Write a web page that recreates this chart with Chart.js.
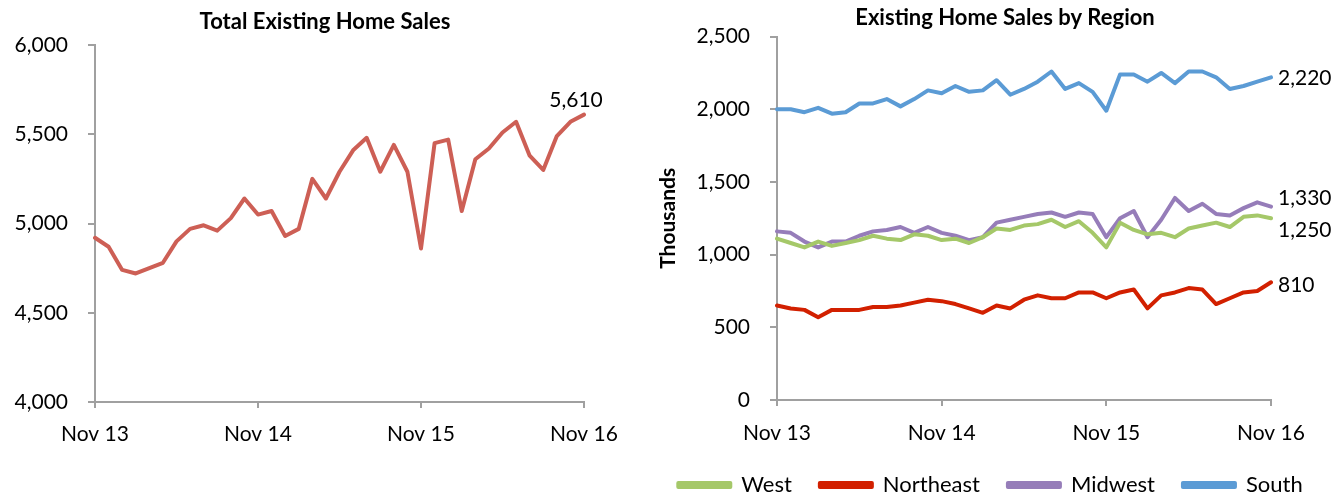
<!DOCTYPE html>
<html>
<head>
<meta charset="utf-8">
<script src="https://cdn.jsdelivr.net/npm/chart.js@4/dist/chart.umd.min.js"></script>
<style>
  html, body { margin: 0; padding: 0; background: #fff; overflow: hidden; }
  #wrap { position: relative; width: 1341px; height: 497px; }
  canvas { position: absolute; top: 0; }
</style>
</head>
<body>
<div id="wrap">
  <canvas id="total" width="640" height="497" style="left:0"></canvas>
  <canvas id="region" width="701" height="497" style="left:640px"></canvas>
</div>
<script>
const months = [
  'Nov 13', 'Dec 13', 'Jan 14', 'Feb 14', 'Mar 14', 'Apr 14', 'May 14', 'Jun 14', 'Jul 14', 'Aug 14', 'Sep 14', 'Oct 14',
  'Nov 14', 'Dec 14', 'Jan 15', 'Feb 15', 'Mar 15', 'Apr 15', 'May 15', 'Jun 15', 'Jul 15', 'Aug 15', 'Sep 15', 'Oct 15',
  'Nov 15', 'Dec 15', 'Jan 16', 'Feb 16', 'Mar 16', 'Apr 16', 'May 16', 'Jun 16', 'Jul 16', 'Aug 16', 'Sep 16', 'Oct 16',
  'Nov 16'
];
const xTickLabels = ['Nov 13', 'Nov 14', 'Nov 15', 'Nov 16'];

const totalSales = [4920, 4870, 4740, 4720, 4750, 4780, 4900, 4970, 4990, 4960, 5030, 5140,
  5050, 5070, 4930, 4970, 5250, 5140, 5290, 5410, 5480, 5290, 5440, 5290,
  4860, 5450, 5470, 5070, 5360, 5420, 5510, 5570, 5380, 5300, 5490, 5570, 5610];

const west = [1110, 1080, 1050, 1090, 1060, 1080, 1100, 1130, 1110, 1100, 1140, 1130,
  1100, 1110, 1080, 1120, 1180, 1170, 1200, 1210, 1240, 1190, 1230, 1150,
  1050, 1220, 1170, 1140, 1150, 1120, 1180, 1200, 1220, 1190, 1260, 1270, 1250];
const northeast = [650, 630, 620, 570, 620, 620, 620, 640, 640, 650, 670, 690,
  680, 660, 630, 600, 650, 630, 690, 720, 700, 700, 740, 740,
  700, 740, 760, 630, 720, 740, 770, 760, 660, 700, 740, 750, 810];
const midwest = [1160, 1150, 1090, 1050, 1090, 1090, 1130, 1160, 1170, 1190, 1150, 1190,
  1150, 1130, 1100, 1120, 1220, 1240, 1260, 1280, 1290, 1260, 1290, 1280,
  1120, 1250, 1300, 1120, 1240, 1390, 1300, 1350, 1280, 1270, 1320, 1360, 1330];
const south = [2000, 2000, 1980, 2010, 1970, 1980, 2040, 2040, 2070, 2020, 2070, 2130,
  2110, 2160, 2120, 2130, 2200, 2100, 2140, 2190, 2260, 2140, 2180, 2120,
  1990, 2240, 2240, 2190, 2250, 2180, 2260, 2260, 2220, 2140, 2160, 2190, 2220];

const FONT = 'Lato, "Open Sans", sans-serif';
Chart.defaults.font.family = FONT;
Chart.defaults.color = '#000';
const AXIS = '#a0a0a0';

// shift the title sideways, the Excel titles are not centred on the canvas
const titleShift = {
  id: 'titleShift',
  afterLayout(chart, args, opts) {
    const t = chart.titleBlock;
    if (t && opts.dx) { t.left += opts.dx; t.right += opts.dx; }
  }
};

// value label next to the last point of each line
const endLabels = {
  id: 'endLabels',
  afterDatasetsDraw(chart, args, opts) {
    const ctx = chart.ctx;
    ctx.save();
    ctx.font = '21px ' + FONT;
    ctx.fillStyle = '#000';
    ctx.textBaseline = 'middle';
    chart.data.datasets.forEach((ds, i) => {
      const pts = chart.getDatasetMeta(i).data;
      const p = pts[pts.length - 1];
      const o = opts.offsets[i];
      ctx.textAlign = o.align;
      ctx.fillText(ds.data[ds.data.length - 1].toLocaleString('en-US'), p.x + o.dx, p.y + o.dy);
    });
    ctx.restore();
  }
};

function xAxis(height, pad) {
  return {
    type: 'category',
    grid: { drawOnChartArea: false, drawTicks: true, tickLength: 6, color: AXIS, lineWidth: 2 },
    border: { color: AXIS, width: 2 },
    ticks: {
      autoSkip: false, maxRotation: 0, padding: pad, font: { size: 21 },
      callback(v) {
        const l = this.getLabelForValue(v);
        return xTickLabels.includes(l) ? l : null;
      }
    },
    afterFit(s) { s.height = height; }
  };
}

function yAxis(min, max, width, extra) {
  return Object.assign({
    min: min, max: max,
    grid: { drawOnChartArea: false, drawTicks: true, tickLength: 7, color: AXIS, lineWidth: 2 },
    border: { color: AXIS, width: 2 },
    ticks: { stepSize: 500, padding: 20, font: { size: 21 }, callback: v => v.toLocaleString('en-US') },
    afterFit(s) { s.width = width; }
  }, extra || {});
}

function line(label, data, color) {
  return {
    label: label, data: data, borderColor: color, backgroundColor: color,
    borderWidth: 4, pointRadius: 0, tension: 0,
    borderJoinStyle: 'round', borderCapStyle: 'round'
  };
}

new Chart(document.getElementById('total'), {
  type: 'line',
  data: { labels: months, datasets: [line('Total', totalSales, '#CD5F55')] },
  plugins: [titleShift, endLabels],
  options: {
    responsive: false, animation: false,
    layout: { padding: { left: 0, right: 56, top: 0, bottom: 0 } },
    plugins: {
      legend: { display: false },
      tooltip: { enabled: false },
      title: {
        display: true, text: 'Total Existing Home Sales', color: '#000',
        font: { size: 22, weight: 'bold' }, padding: { top: 9, bottom: 9.6 }
      },
      titleShift: { dx: 33 },
      endLabels: { offsets: [{ align: 'center', dx: -8, dy: -14 }] }
    },
    scales: {
      x: xAxis(95, 14),
      y: yAxis(4000, 6000, 95)
    }
  }
});

new Chart(document.getElementById('region'), {
  type: 'line',
  data: {
    labels: months,
    datasets: [
      line('West', west, '#A5C869'),
      line('Northeast', northeast, '#D22000'),
      line('Midwest', midwest, '#967DB9'),
      line('South', south, '#5B9BD5')
    ]
  },
  plugins: [titleShift, endLabels],
  options: {
    responsive: false, animation: false,
    layout: { padding: { left: 0, right: 0, top: 0, bottom: -9 } },
    plugins: {
      tooltip: { enabled: false },
      title: {
        display: true, text: 'Existing Home Sales by Region', color: '#000',
        font: { size: 22, weight: 'bold' }, padding: { top: 5, bottom: 5.2 }
      },
      titleShift: { dx: 14.5 },
      legend: {
        position: 'bottom',
        labels: { boxWidth: 52, boxHeight: 4, padding: 28, font: { size: 22 }, color: '#000' }
      },
      endLabels: {
        offsets: [
          { align: 'left', dx: 7, dy: 12 },
          { align: 'left', dx: 7, dy: 3 },
          { align: 'left', dx: 7, dy: -8 },
          { align: 'left', dx: 7, dy: 1 }
        ]
      }
    },
    scales: {
      x: xAxis(46, 15),
      y: yAxis(0, 2500, 137, {
        title: {
          display: true, text: 'Thousands', color: '#000',
          font: { size: 21, weight: 'bold' }, padding: { top: 16, bottom: 0 }
        }
      }),
      // empty right-hand box that keeps room for the end labels
      yr: {
        type: 'linear', position: 'right', display: true,
        grid: { display: false }, border: { display: false }, ticks: { display: false },
        afterFit(s) { s.width = 70; }
      }
    }
  }
});
</script>
</body>
</html>
